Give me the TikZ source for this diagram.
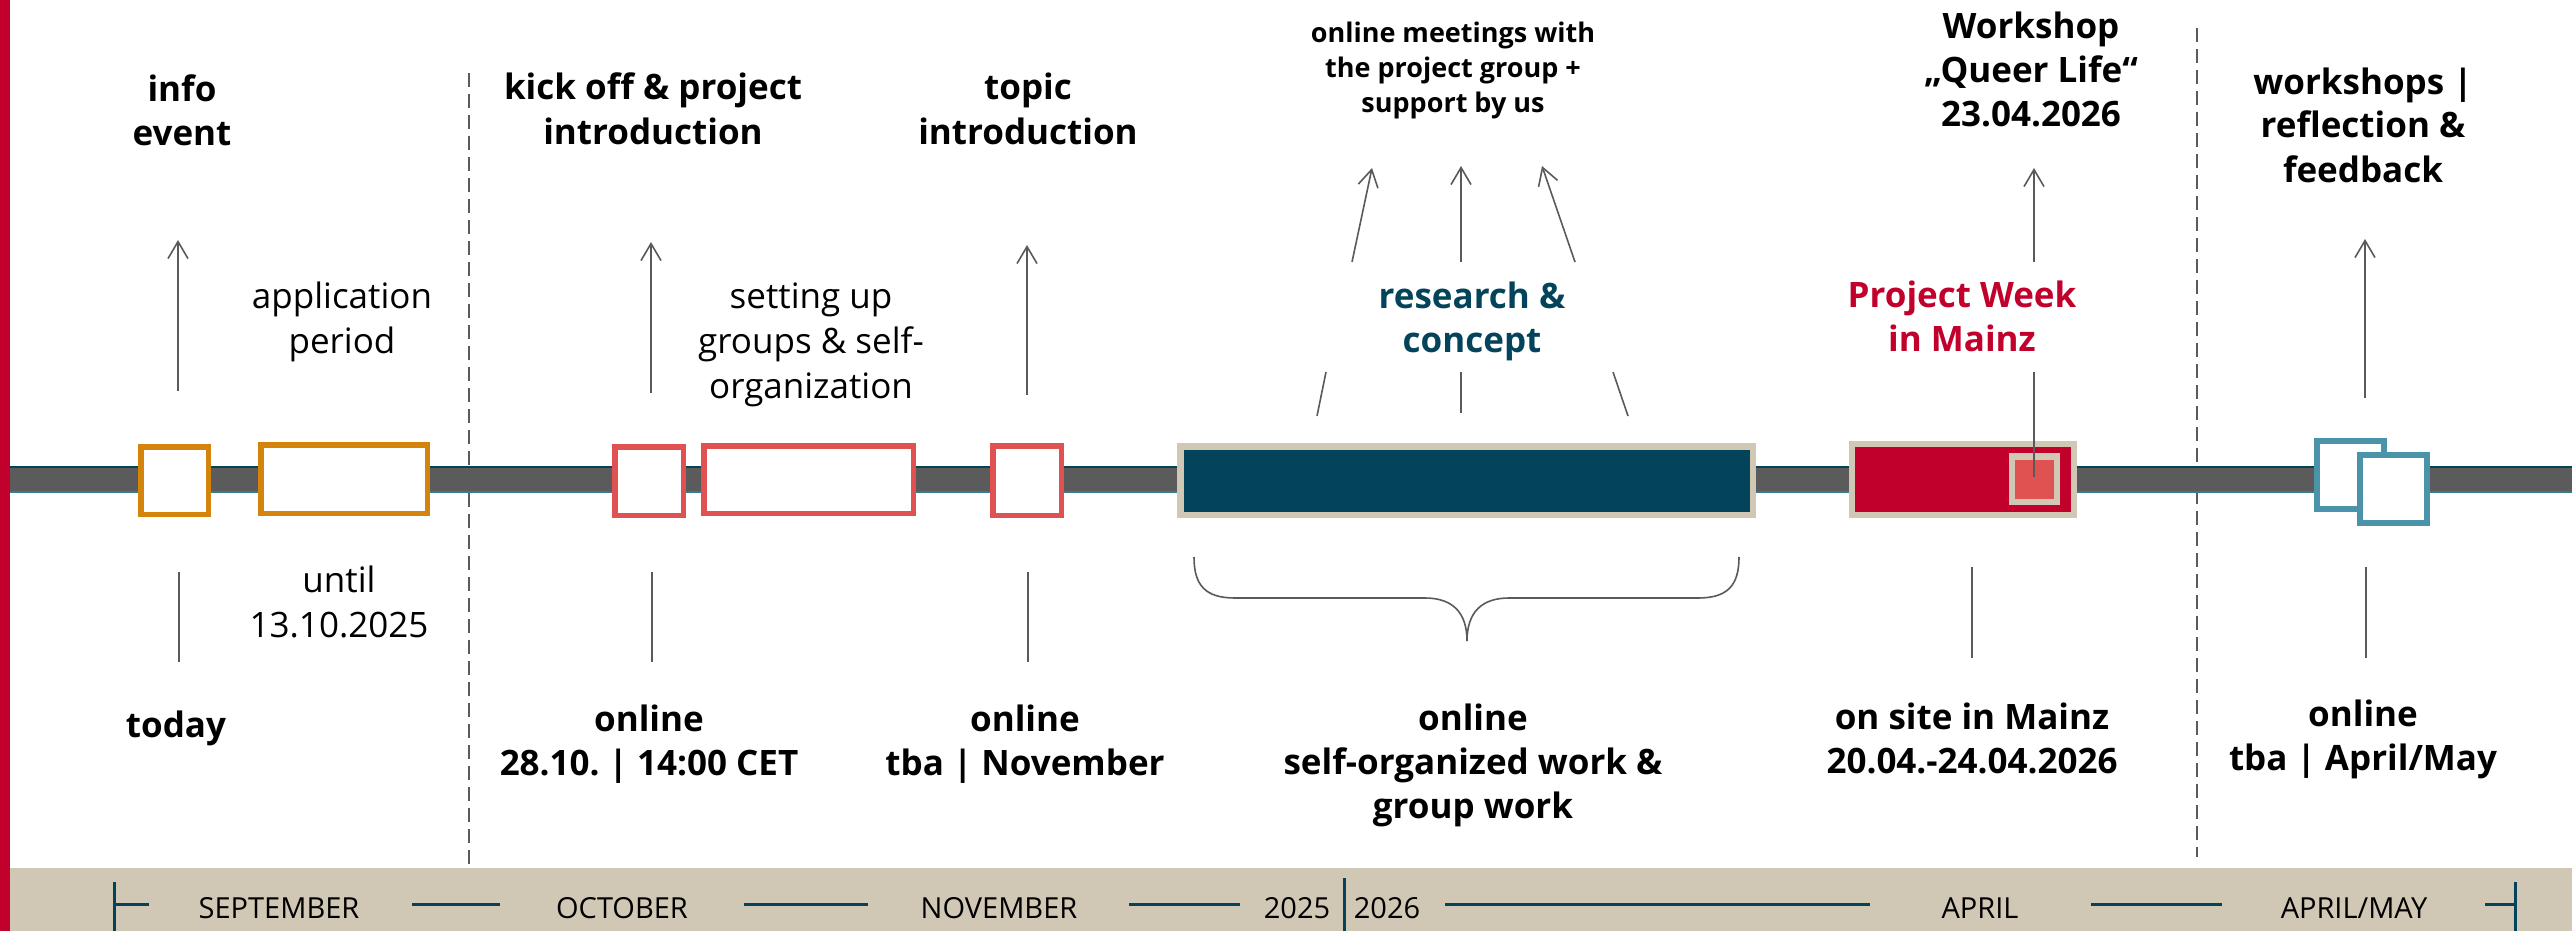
\documentclass[tikz,border=0pt]{standalone}
\usepackage{fontspec}
\setmainfont{Open Sans}
\usetikzlibrary{arrows.meta}
\frenchspacing
\definecolor{cRed}{HTML}{C1002B}
\definecolor{cTeal}{HTML}{03445A}
\definecolor{cOrange}{HTML}{D4840A}
\definecolor{cCoral}{HTML}{E05252}
\definecolor{cBeige}{HTML}{D0C7B5}
\definecolor{cBlue}{HTML}{4B93A9}
\definecolor{cBar}{HTML}{5B5B5B}
\definecolor{cLine}{HTML}{5A5A5A}
\tikzset{
  head/.style={font=\bfseries\fontsize{35}{44}\selectfont, align=center, anchor=base, inner sep=0pt},
  regtext/.style={font=\fontsize{35}{45}\selectfont, align=center, anchor=base, inner sep=0pt},
  smalltext/.style={font=\bfseries\fontsize{27}{35}\selectfont, align=center, anchor=base, inner sep=0pt},
  month/.style={font=\fontsize{29}{35}\selectfont, anchor=base, inner sep=0pt, text=black},
  conn/.style={draw=cLine, line width=1.6pt},
  arr/.style={conn, -{Straight Barb[length=17pt,width=20pt,line width=1.6pt]}},
  divider/.style={draw=cLine, line width=1.5pt, dash pattern=on 14pt off 7pt},
  obox/.style={draw=cOrange, fill=white, line width=5.5pt},
  cbox/.style={draw=cCoral, fill=white, line width=5.5pt},
  bbox/.style={draw=cBlue, fill=white, line width=6pt},
  axisline/.style={draw=cTeal, line width=3pt}
}
\begin{document}
\begin{tikzpicture}[x=1pt,y=-1pt]
\useasboundingbox (0,0) rectangle (2572,931);
\fill[white] (0,0) rectangle (2572,931);
% left red strip
\fill[cRed] (0,0) rectangle (10,931);
% dividers
\coordinate (d1t) at (469,73); \coordinate (d1b) at (469,868);
\coordinate (d2t) at (2197,28); \coordinate (d2b) at (2197,857);
\draw[divider] (d1t) -- (d1b);
\draw[divider] (d2t) -- (d2b);
% main bar
\fill[cBar] (10,467) rectangle (2572,492);
\draw[cTeal, line width=1.5pt] (10,467) -- (2572,467);
\draw[cBlue!70!cTeal, line width=1.5pt] (10,492) -- (2572,492);
% boxes
\draw[obox] (140.75,446.75) rectangle (208.25,514.25);
\draw[obox] (260.75,444.75) rectangle (427.25,513.25);
\draw[cbox] (614.75,446.75) rectangle (683.25,515.25);
\draw[cbox] (703.75,445.75) rectangle (913.25,513.25);
\draw[cbox] (992.75,445.75) rectangle (1061.25,515.25);
% research bar
\fill[cBeige] (1177,443) rectangle (1756,518);
\fill[cTeal] (1184,450) rectangle (1750,512);
% project week bar
\fill[cBeige] (1849,441) rectangle (2077,518);
\fill[cRed] (1855,447) rectangle (2071,512);
\fill[cBeige] (2009,453) rectangle (2060,505);
\fill[cCoral] (2015,460) rectangle (2054,499);
% teal boxes
\draw[bbox] (2317,441) rectangle (2384,509);
\draw[bbox] (2360,455) rectangle (2427,523);

% top texts (anchor = baseline of the last line)
\node[head] (info) at (182,146) {info\\event};
\node[head] (kick) at (653,144) {kick off \& project\\introduction};
\node[head] (topic) at (1028,144) {topic\\introduction};
\node[smalltext] (meet) at (1453,113) {online meetings with\\the project group +\\support by us};
\node[head, text=cTeal] (research) at (1472,352) {research \&\\concept};
\node[head] (wsq) at (2031,127) {Workshop\\„Queer Life“\\23.04.2026};
\node[head] (wsr) at (2363,182) {workshops |\\reflection \&\\feedback};
\node[head, text=cRed] (pw) at (1962,351) {Project Week\\in Mainz};
\node[regtext] (app) at (342,353) {application\\period};
\node[regtext] (setup) at (811,398) {setting up\\groups \& self-\\organization};

% bottom texts
\node[regtext] (until) at (339,637) {until\\13.10.2025};
\node[head] (today) at (176,737) {today};
\node[head] (on1) at (649,775) {online\\28.10. | 14:00 CET};
\node[head] (on2) at (1025,775) {online\\tba | November};
\node[head] (on3) at (1473,818) {online\\self-organized work \&\\group work};
\node[head] (mainz) at (1972,773) {on site in Mainz\\20.04.-24.04.2026};
\node[head] (on4) at (2363,770) {online\\tba | April/May};

% connectors: arrows up
\coordinate (a1s) at (178,391); \coordinate (a1e) at (178,240);
\coordinate (a2s) at (651,393); \coordinate (a2e) at (651,242);
\coordinate (a3s) at (1027,395); \coordinate (a3e) at (1027,245);
\coordinate (r1s) at (1352,262); \coordinate (r1e) at (1372,168);
\coordinate (r2s) at (1461,262); \coordinate (r2e) at (1461,166);
\coordinate (r3s) at (1575,262); \coordinate (r3e) at (1542,166);
\coordinate (w1s) at (2034,262); \coordinate (w1e) at (2034,168);
\coordinate (w2s) at (2365,398); \coordinate (w2e) at (2365,239);
\draw[arr] (a1s) -- (a1e);
\draw[arr] (a2s) -- (a2e);
\draw[arr] (a3s) -- (a3e);
\draw[arr] (r1s) -- (r1e);
\draw[arr] (r2s) -- (r2e);
\draw[arr] (r3s) -- (r3e);
\draw[arr] (w1s) -- (w1e);
\draw[arr] (w2s) -- (w2e);
% plain lines
\coordinate (l1a) at (1326,372); \coordinate (l1b) at (1317,416);
\coordinate (l2a) at (1461,372); \coordinate (l2b) at (1461,413);
\coordinate (l3a) at (1613,372); \coordinate (l3b) at (1628,416);
\draw[conn] (l1a) -- (l1b);
\draw[conn] (l2a) -- (l2b);
\draw[conn] (l3a) -- (l3b);
\coordinate (pwa) at (2034,372); \coordinate (pwb) at (2034,477);
\draw[conn] (pwa) -- (pwb);
\coordinate (t1a) at (179,572); \coordinate (t1b) at (179,662);
\coordinate (t2a) at (652,572); \coordinate (t2b) at (652,662);
\coordinate (t3a) at (1028,572); \coordinate (t3b) at (1028,662);
\coordinate (t4a) at (1972,567); \coordinate (t4b) at (1972,658);
\coordinate (t5a) at (2366,567); \coordinate (t5b) at (2366,658);
\draw[conn] (t1a) -- (t1b);
\draw[conn] (t2a) -- (t2b);
\draw[conn] (t3a) -- (t3b);
\draw[conn] (t4a) -- (t4b);
\draw[conn] (t5a) -- (t5b);
% brace
\draw[conn] (1194,557) .. controls (1194,585) and (1205,598) .. (1235,598) -- (1425,598)
  .. controls (1452,598) and (1467,612) .. (1467,641)
  .. controls (1467,612) and (1482,598) .. (1509,598) -- (1698,598)
  .. controls (1728,598) and (1739,585) .. (1739,557);

% bottom band
\fill[cBeige] (10,868) rectangle (2572,931);
\draw[axisline] (114,882) -- (114,931);
\draw[axisline] (114,904) -- (149,904);
\draw[axisline] (412,904) -- (500,904);
\draw[axisline] (744,904) -- (868,904);
\draw[axisline] (1129,904) -- (1240,904);
\draw[axisline] (1344,878) -- (1344,931);
\draw[axisline] (1445,904) -- (1870,904);
\draw[axisline] (2091,904) -- (2222,904);
\draw[axisline] (2485,904) -- (2515,904);
\draw[axisline] (2515,882) -- (2515,931);
\node[month] (sep) at (279,918) {SEPTEMBER};
\node[month] (oct) at (622,918) {OCTOBER};
\node[month] (nov) at (999,918) {NOVEMBER};
\node[month] (y25) at (1297,918) {2025};
\node[month] (y26) at (1387,918) {2026};
\node[month] (apr) at (1980,918) {APRIL};
\node[month] (aprmay) at (2354,918) {APRIL/MAY};
\end{tikzpicture}
\end{document}
